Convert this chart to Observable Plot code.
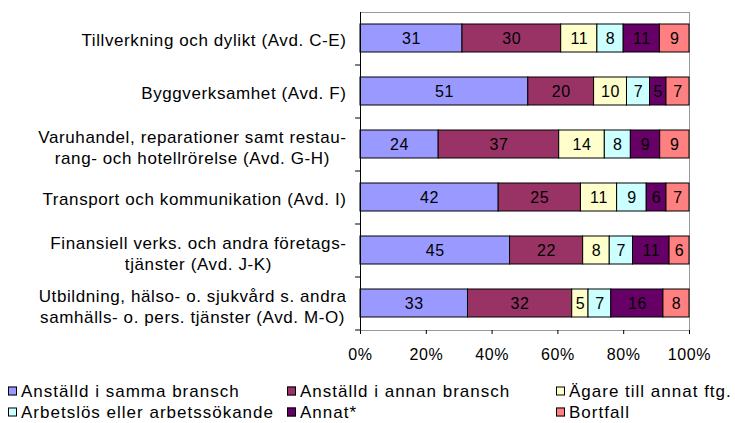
<!DOCTYPE html>
<html>
<head>
<meta charset="utf-8">
<script src="https://cdn.jsdelivr.net/npm/d3@7"></script>
<script src="https://cdn.jsdelivr.net/npm/@observablehq/plot@0.6"></script>
<style>
  html, body { margin: 0; padding: 0; background: #fff; }
  body { width: 735px; height: 423px; overflow: hidden; font-family: "Liberation Sans", Arial, sans-serif; }
  #legend { position: relative; width: 735px; height: 53px; font-size: 17px; color: #000; letter-spacing: 1px; }
  .item { position: absolute; display: flex; align-items: center; white-space: nowrap; line-height: 1; transform: translateY(-50%); }
  .sw { width: 9px; height: 9px; border: 1px solid #000; margin-right: 4px; box-sizing: border-box; }
</style>
</head>
<body>
<div id="chart"></div>
<div id="legend"></div>
<script>
const categories = [
  "Tillverkning och dylikt (Avd. C-E)",
  "Byggverksamhet (Avd. F)",
  "Varuhandel, reparationer samt restau-\nrang- och hotellrörelse (Avd. G-H)",
  "Transport och kommunikation (Avd. I)",
  "Finansiell verks. och andra företags-\ntjänster (Avd. J-K)",
  "Utbildning, hälso- o. sjukvård s. andra\nsamhälls- o. pers. tjänster (Avd. M-O)"
];
const seriesNames = [
  "Anställd i samma bransch",
  "Anställd i annan bransch",
  "Ägare till annat ftg.",
  "Arbetslös eller arbetssökande",
  "Annat*",
  "Bortfall"
];
const colors = ["#9999FF", "#993366", "#FFFFCC", "#CCFFFF", "#660066", "#FF8080"];
const sammaBransch = [31, 51, 24, 42, 45, 33];
const annanBransch = [30, 20, 37, 25, 22, 32];
const agare = [11, 10, 14, 11, 8, 5];
const arbetslos = [8, 7, 8, 9, 7, 7];
const annat = [11, 5, 9, 6, 11, 16];
const bortfall = [9, 7, 9, 7, 6, 8];
const xTicks = [0, 0.2, 0.4, 0.6, 0.8, 1];

const seriesValues = [sammaBransch, annanBransch, agare, arbetslos, annat, bortfall];
const data = [];
categories.forEach((c, i) => {
  seriesNames.forEach((s, j) => {
    data.push({category: c, series: s, value: seriesValues[j][i]});
  });
});

const FONT = '"Liberation Sans", Arial, sans-serif';
const W = 735, H = 370;
const mT = 12, mB = 40, mL = 360, mR = 46;
const step = (H - mT - mB) / categories.length;
const LABEL_SIZE = 17;
const LS = 0.6;

const ctx = document.createElement("canvas").getContext("2d");
ctx.font = `${LABEL_SIZE}px ${FONT}`;
const labelMarks = categories.map(c => {
  const lines = c.split("\n");
  const w = Math.max(...lines.map(l => ctx.measureText(l).width + l.length * LS));
  return Plot.text([c], {
    x: () => 0, y: d => d, text: d => d,
    textAnchor: "middle", lineHeight: 1.22,
    dx: -(14 + w / 2), dy: lines.length > 1 ? 2 : 1,
    fontSize: LABEL_SIZE, fill: "#000"
  });
});

const chart = Plot.plot({
  width: W,
  height: H,
  marginTop: mT,
  marginBottom: mB,
  marginLeft: mL,
  marginRight: mR,
  style: {fontFamily: FONT, fontSize: "16px", color: "#000", background: "#fff", letterSpacing: LS + "px"},
  x: {domain: [0, 1], label: null},
  y: {domain: categories, paddingInner: 0.47, paddingOuter: 0.235, label: null},
  color: {domain: seriesNames, range: colors},
  marks: [
    Plot.frame({stroke: "#999"}),
    Plot.barX(data, Plot.stackX({
      x: "value", y: "category", fill: "series", z: "series",
      order: seriesNames, offset: "normalize",
      stroke: "#000", strokeWidth: 1
    })),
    Plot.text(data, Plot.stackX({
      x: "value", y: "category", z: "series", text: "value",
      order: seriesNames, offset: "normalize",
      fill: "#000", fontSize: 16
    })),
    Plot.ruleX([0], {stroke: "#000"}),
    Plot.ruleY(categories, {y: d => d, dy: step / 2, x1: 0, x2: -0.015, stroke: "#000"}),
    Plot.axisX({ticks: xTicks, tickFormat: d => Math.round(d * 100) + "%", tickSize: 4, tickPadding: 14, line: true, fontSize: 16, stroke: "#000", label: null}),
    Plot.axisY({ticks: [], label: null, tickSize: 0}),
    ...labelMarks
  ]
});
document.getElementById("chart").appendChild(chart);

// legend: 3 columns x 2 rows
const legend = document.getElementById("legend");
const colX = [8, 287, 556];
const rowY = [21, 42];
seriesNames.forEach((s, i) => {
  const item = document.createElement("div");
  item.className = "item";
  item.style.left = colX[i % 3] + "px";
  item.style.top = rowY[Math.floor(i / 3)] + "px";
  const sw = document.createElement("span");
  sw.className = "sw";
  sw.style.background = colors[i];
  const t = document.createElement("span");
  t.textContent = s;
  item.appendChild(sw);
  item.appendChild(t);
  legend.appendChild(item);
});
</script>
</body>
</html>
